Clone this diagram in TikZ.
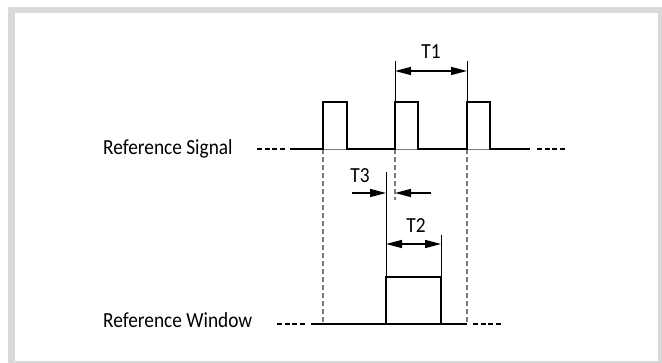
\documentclass[tikz,border=0pt]{standalone}
\usepackage{fontspec}
\setmainfont[FakeStretch=0.9]{Carlito}
\usetikzlibrary{arrows.meta}
\definecolor{framegray}{HTML}{D9D9D9}
\definecolor{guidegray}{HTML}{7A7A7A}
\begin{document}
\begin{tikzpicture}[x=1pt,y=-1pt,
  sig/.style={line width=2.4pt, line cap=butt, line join=miter},
  cont/.style={line width=2.4pt, dash pattern=on 5pt off 2.6pt},
  under/.style={line width=0.9pt, guidegray},
  guide/.style={line width=1.2pt, guidegray, dash pattern=on 5pt off 3pt},
  tick/.style={line width=0.9pt},
  dimarr/.style={line width=1.5pt, -{Triangle[length=16pt,width=8pt]}},
  dimboth/.style={line width=1.5pt, {Triangle[length=16pt,width=8pt]}-{Triangle[length=16pt,width=8pt]}},
  lbl/.style={font=\fontsize{21.5}{24}\selectfont, inner sep=0pt}]
\useasboundingbox (0,0) rectangle (662,363);
% frame
\fill[framegray] (8,7) rectangle (662,363);
\fill[white] (14.5,13.5) rectangle (658,361);

% key coordinates
\coordinate (p1) at (323,149);
\coordinate (p2) at (395,149);
\coordinate (p3) at (467,149);
\coordinate (w1) at (386,324);
\coordinate (w2) at (441,324);

% labels
\node[lbl, anchor=base west] (rs) at (103,155) {Reference Signal};
\node[lbl, anchor=base west] (rw) at (103,328) {Reference Window};
\node[lbl, anchor=base] (t1) at (431,59) {T1};
\node[lbl, anchor=base] (t3) at (360,183) {T3};
\node[lbl, anchor=base] (t2) at (416,233) {T2};

% guide lines
\draw[guide] (p1) -- (323,324);
\draw[guide] (p2) -- (395,200);
\draw[guide] (p3) -- (467,324);

% thin lines under pulses
\draw[under] (323,149) -- (347,149);
\draw[under] (395,149) -- (418,149);
\draw[under] (467,149) -- (490,149);
\draw[line width=1.1pt] (w1) -- (w2);

% reference signal
\draw[sig] (290,149) -- (p1) -- (323,102) -- (347,102) -- (347,149) -- (p2)
  -- (395,102) -- (418,102) -- (418,149) -- (p3) -- (467,102) -- (490,102)
  -- (490,149) -- (530,149);
\draw[cont] (257,149) -- (286,149);
\draw[cont] (537,149) -- (566,149);

% reference window
\draw[sig] (311,324) -- (w1) -- (386,277) -- (441,277) -- (w2) -- (467,324);
\draw[cont] (277,324) -- (306,324);
\draw[cont] (473,324) -- (502,324);

% T1
\draw[tick] (395,61) -- (395,102);
\draw[tick] (467,61) -- (467,102);
\draw[dimboth] (395,71) -- (467,71);

% T3
\draw[tick] (386,172) -- (386,277);
\draw[dimarr] (352,193) -- (386,193);
\draw[dimarr] (431,193) -- (395,193);

% T2
\draw[tick] (441,235) -- (441,277);
\draw[dimboth] (386,244) -- (441,244);
\end{tikzpicture}
\end{document}
